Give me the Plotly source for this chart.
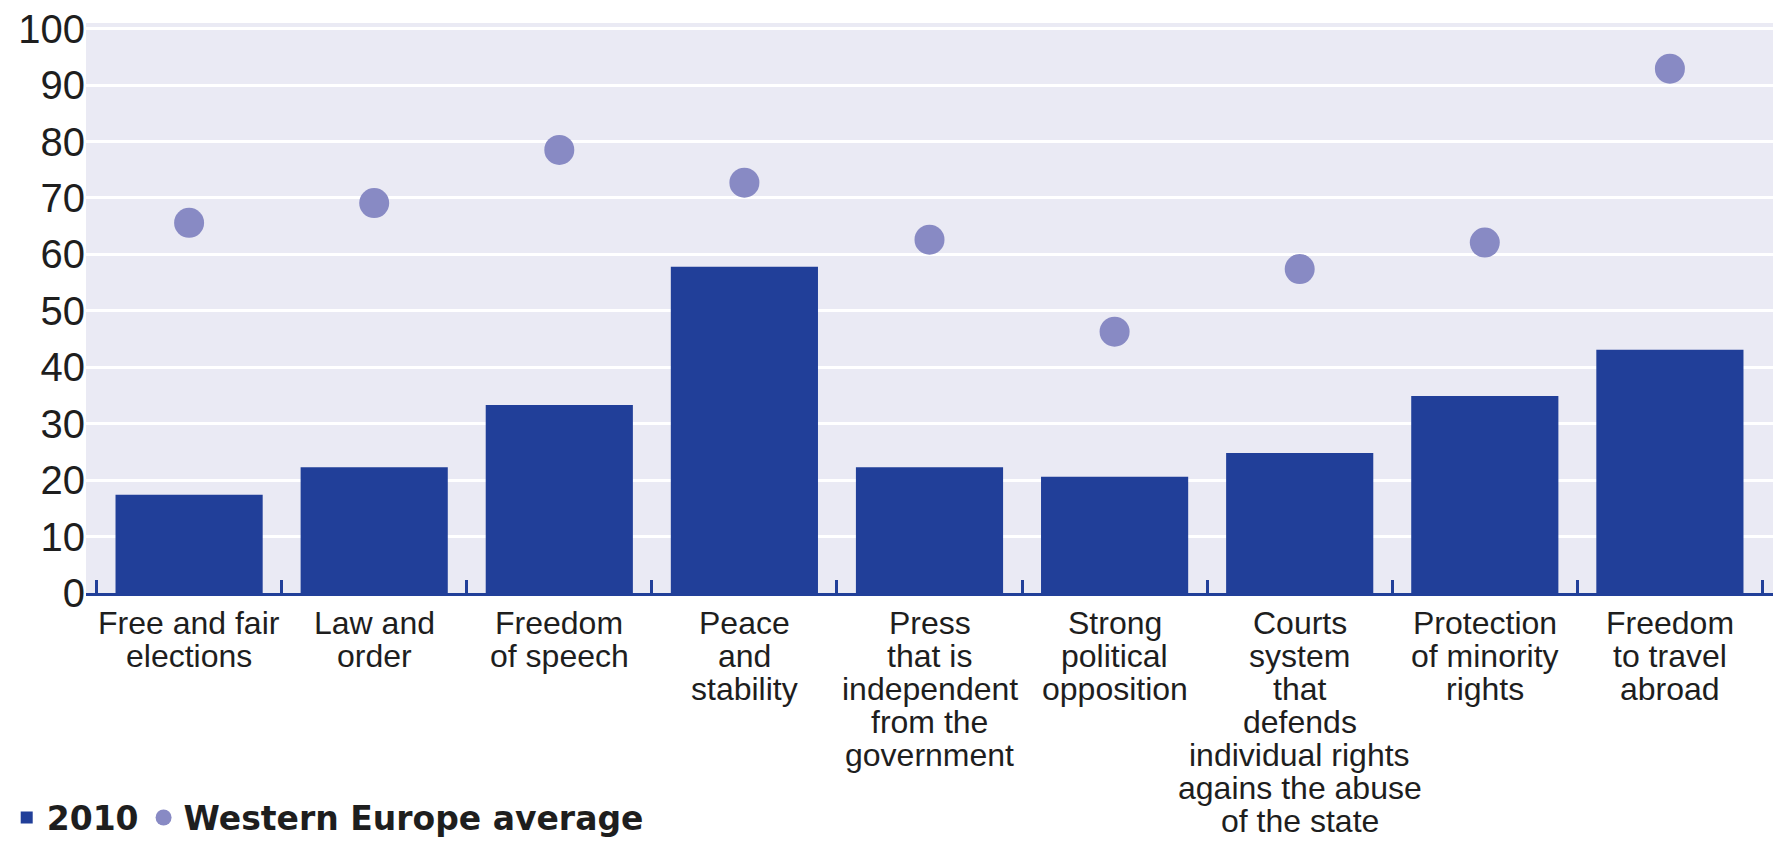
import plotly.graph_objects as go

categories = [
    "Free and fair elections",
    "Law and order",
    "Freedom of speech",
    "Peace and stability",
    "Press that is independent from the government",
    "Strong political opposition",
    "Courts system that defends individual rights agains the abuse of the state",
    "Protection of minority rights",
    "Freedom to travel abroad",
]
label_lines = [
    ["Free and fair", "elections"],
    ["Law and", "order"],
    ["Freedom", "of speech"],
    ["Peace", "and", "stability"],
    ["Press", "that is", "independent", "from the", "government"],
    ["Strong", "political", "opposition"],
    ["Courts", "system", "that", "defends", "individual rights", "agains the abuse", "of the state"],
    ["Protection", "of minority", "rights"],
    ["Freedom", "to travel", "abroad"],
]
values_2010 = [17.4, 22.3, 33.3, 57.8, 22.3, 20.6, 24.8, 34.9, 43.1]
values_we_avg = [65.6, 69.1, 78.5, 72.7, 62.6, 46.3, 57.4, 62.1, 92.9]
y_ticks = [0, 10, 20, 30, 40, 50, 60, 70, 80, 90, 100]

BAR = "#213f99"
DOT = "#888ac4"
BG = "#eaeaf4"
TXT = "#1e1e1e"
FONT = "Liberation Sans, Arial, sans-serif"

fig = go.Figure()
fig.add_trace(go.Bar(x=categories, y=values_2010, name="2010",
                     marker=dict(color=BAR, line=dict(width=0))))
fig.add_trace(go.Scatter(x=categories, y=values_we_avg, name="Western Europe average",
                         mode="markers", marker=dict(color=DOT, size=30)))

annotations = []
for cat, lines in zip(categories, label_lines):
    for i, line in enumerate(lines):
        annotations.append(dict(
            x=cat, xref="x", y=0, yref="paper", yanchor="middle", xanchor="center",
            yshift=-(30 + 33 * i), text=line, showarrow=False,
            font=dict(family=FONT, size=32, color=TXT)))

fig.update_layout(
    width=1773, height=843,
    margin=dict(l=86, r=0, t=23, b=250, pad=0, autoexpand=False),
    paper_bgcolor="white", plot_bgcolor=BG,
    bargap=0.205,
    font=dict(family=FONT, color=TXT),
    showlegend=True,
    legend=dict(orientation="h", x=-0.047, xanchor="left", y=-0.394, yanchor="middle",
                font=dict(family="DejaVu Sans, sans-serif", size=33, color=TXT, weight="bold"),
                itemsizing="trace", itemwidth=30, bgcolor="rgba(0,0,0,0)", tracegroupgap=0),
    annotations=annotations,
)
fig.update_xaxes(type="category", showticklabels=False, ticks="inside", tickson="boundaries",
                 ticklen=13, tickwidth=3, tickcolor=BAR, showline=True, linecolor=BAR,
                 linewidth=3, showgrid=False, zeroline=False, fixedrange=True, automargin=False)
fig.update_yaxes(range=[0, 101], tickvals=y_ticks, ticktext=[str(v) for v in y_ticks],
                 showgrid=True, gridcolor="white", gridwidth=3, zeroline=False,
                 showline=False, ticks="", tickfont=dict(family=FONT, size=40, color=TXT),
                 fixedrange=True, automargin=False)

fig.write_html("out.html", config={"displayModeBar": False},
               post_script="document.body.style.margin='0';document.documentElement.style.overflow='hidden';document.body.style.overflow='hidden';")
